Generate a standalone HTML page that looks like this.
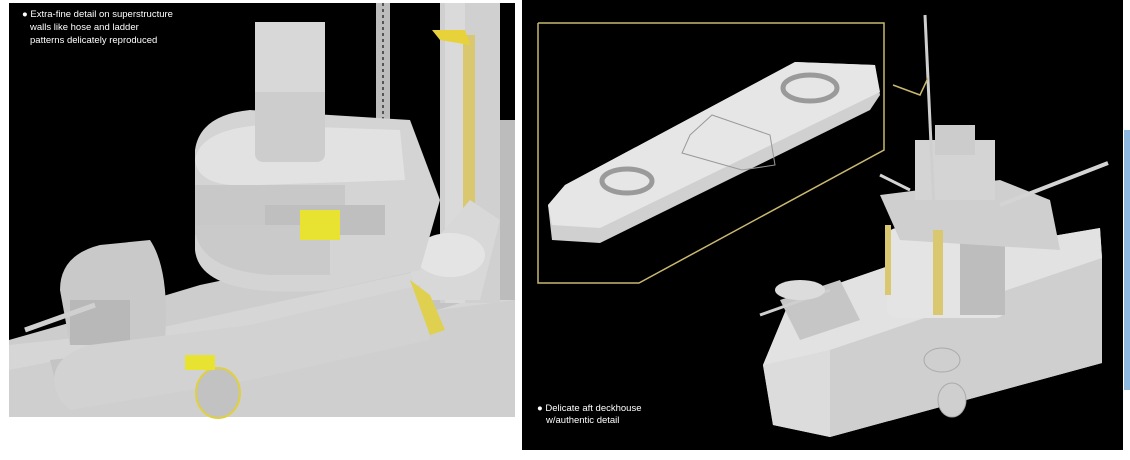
<!DOCTYPE html>
<html><head><meta charset="utf-8"><style>
html,body{margin:0;padding:0;background:#fff;width:1130px;height:460px;overflow:hidden}
svg{display:block}
text{font-family:"Liberation Sans",sans-serif;fill:#fff}
</style></head><body>
<svg width="1130" height="460" viewBox="0 0 1130 460">
<rect width="1130" height="460" fill="#fff"/>
<!-- left panel -->
<rect x="9" y="3" width="506" height="414" fill="#000"/>
<!-- main deck -->
<polygon points="9,340 150,300 200,285 440,235 515,225 515,417 9,417" fill="#cdcdcd"/>
<polygon points="9,345 150,330 515,250 515,417 9,417" fill="#d6d6d6"/>
<polygon points="9,370 60,360 515,300 515,417 9,417" fill="#cfcfcf"/>
<polygon points="50,360 230,340 460,280 470,300 240,370 60,400" fill="#c4c4c4"/>
<!-- funnel -->
<rect x="440" y="3" width="60" height="300" fill="#d0d0d0"/>
<rect x="445" y="3" width="20" height="300" fill="#dadada"/>
<rect x="463" y="35" width="12" height="190" fill="#d9c870"/>
<polygon points="432,30 465,30 470,45 440,40" fill="#e8d23a"/>
<rect x="500" y="120" width="15" height="180" fill="#bcbcbc"/>
<!-- ladder mast -->
<rect x="376" y="3" width="14" height="125" fill="#bdbdbd"/>
<line x1="383" y1="3" x2="383" y2="128" stroke="#555" stroke-width="2" stroke-dasharray="3 3"/>
<!-- boat and structures right -->
<polygon points="410,270 470,200 500,220 480,300 420,300" fill="#d8d8d8"/>
<ellipse cx="450" cy="255" rx="35" ry="22" fill="#e4e4e4"/>
<!-- bridge base -->
<path d="M195,150 Q200,115 250,110 L410,120 L440,200 L420,270 L330,290 Q200,300 195,250 Z" fill="#d4d4d4"/>
<path d="M195,160 Q200,130 260,125 L400,130 L405,180 L260,185 Q198,190 195,160 Z" fill="#e2e2e2"/>
<rect x="195" y="185" width="150" height="50" fill="#c8c8c8"/>
<rect x="265" y="205" width="120" height="30" fill="#bfbfbf"/>
<path d="M195,230 Q200,270 270,275 L330,275 L330,225 L195,225 Z" fill="#cacaca"/>
<!-- tower -->
<rect x="255" y="22" width="70" height="140" rx="8" fill="#cdcdcd"/>
<rect x="255" y="22" width="70" height="70" fill="#d8d8d8"/>
<rect x="300" y="210" width="40" height="30" fill="#e8e230"/>
<!-- gun turret -->
<path d="M60,290 Q60,255 100,245 L150,240 Q170,270 165,340 L70,345 Z" fill="#c9c9c9"/>
<rect x="70" y="300" width="60" height="45" fill="#b8b8b8"/>
<line x1="25" y1="330" x2="95" y2="305" stroke="#d0d0d0" stroke-width="5"/>
<!-- lower superstructure rounded -->
<path d="M60,400 Q40,360 90,345 L250,325 L420,285 L430,340 L250,380 L70,410 Z" fill="#d2d2d2"/>
<ellipse cx="218" cy="393" rx="22" ry="25" fill="#c2c2c2" stroke="#e0d040" stroke-width="2"/>
<rect x="185" y="355" width="30" height="15" fill="#e8e230"/>
<polygon points="410,280 430,295 445,330 430,335" fill="#e0d050"/>
<text x="22" y="17" font-size="9.5">● Extra-fine detail on superstructure</text>
<text x="30" y="30" font-size="9.5">walls like hose and ladder</text>
<text x="30" y="43" font-size="9.5">patterns delicately reproduced</text>

<!-- right panel -->
<rect x="522" y="0" width="601" height="450" fill="#000"/>
<rect x="1124" y="130" width="6" height="260" fill="#8fb8e0"/>
<polyline points="538,23 884,23 884,150 639,283 538,283 538,23" fill="none" stroke="#c8b870" stroke-width="1.5"/>
<polygon points="548,205 565,185 795,62 875,65 880,95 870,110 600,243 552,240" fill="#d0d0d0"/>
<polygon points="548,205 565,185 795,62 875,65 880,92 600,228 552,225" fill="#e6e6e6"/>
<ellipse cx="810" cy="88" rx="27" ry="13" fill="none" stroke="#9a9a9a" stroke-width="5"/>
<ellipse cx="627" cy="181" rx="25" ry="12" fill="none" stroke="#9a9a9a" stroke-width="5"/>
<polygon points="690,135 712,115 770,135 775,165 742,170 682,153" fill="none" stroke="#999" stroke-width="1"/>
<!-- deckhouse hull -->
<polygon points="763,365 790,300 900,262 1100,228 1102,258 1102,363 830,437 773,425" fill="#d8d8d8"/>
<polygon points="763,365 790,300 900,262 1100,228 1102,258 830,350 770,372" fill="#e2e2e2"/>
<polygon points="830,350 1102,258 1102,363 830,437" fill="#cfcfcf"/>
<polygon points="763,365 830,350 830,437 773,425" fill="#dcdcdc"/>
<!-- tower -->
<rect x="887" y="228" width="118" height="90" rx="10" fill="#e4e4e4"/>
<rect x="960" y="240" width="45" height="75" fill="#bdbdbd"/>
<polygon points="880,195 1000,180 1050,200 1060,250 900,240" fill="#cfcfcf"/>
<rect x="915" y="140" width="80" height="60" fill="#d4d4d4"/>
<rect x="935" y="125" width="40" height="30" fill="#cccccc"/>
<line x1="925" y1="15" x2="935" y2="230" stroke="#cfcfcf" stroke-width="3"/>
<polyline points="893,85 920,95 928,78" fill="none" stroke="#c8b870" stroke-width="1.5"/>
<line x1="1000" y1="205" x2="1108" y2="163" stroke="#d4d4d4" stroke-width="4"/>
<line x1="880" y1="175" x2="910" y2="190" stroke="#d4d4d4" stroke-width="3"/>
<rect x="933" y="230" width="10" height="85" fill="#d9c870"/>
<rect x="885" y="225" width="6" height="70" fill="#d9c870"/>
<polygon points="780,300 840,280 860,320 800,340" fill="#c6c6c6"/>
<line x1="760" y1="315" x2="830" y2="290" stroke="#cfcfcf" stroke-width="3"/>
<ellipse cx="800" cy="290" rx="25" ry="10" fill="#dcdcdc"/>
<ellipse cx="942" cy="360" rx="18" ry="12" fill="#cfcfcf" stroke="#aaa"/>
<ellipse cx="952" cy="400" rx="14" ry="17" fill="#cfcfcf" stroke="#aaa"/>
<text x="537" y="411" font-size="9.5">● Delicate aft deckhouse</text>
<text x="546" y="423" font-size="9.5">w/authentic detail</text>
</svg>
</body></html>
